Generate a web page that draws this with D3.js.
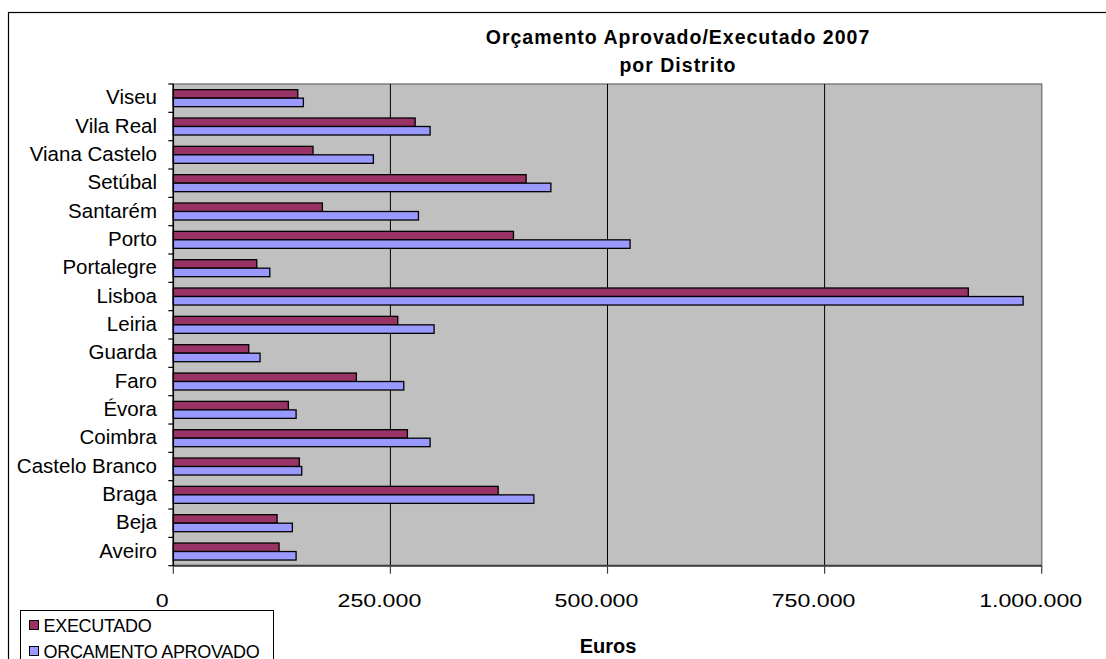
<!DOCTYPE html>
<html>
<head>
<meta charset="utf-8">
<script src="https://cdn.jsdelivr.net/npm/d3@7/dist/d3.min.js"></script>
<style>
    body { margin: 0; background: #fff; }
    svg { display: block; font-family: "Liberation Sans", Arial, sans-serif; }
</style>
</head>
<body>
<div id="chart"></div>
<script>
'use strict'

// Districts, bottom to top as they appear on the chart.
const districts = ['Aveiro', 'Beja', 'Braga', 'Castelo Branco', 'Coimbra', 'Évora', 'Faro',
    'Guarda', 'Leiria', 'Lisboa', 'Portalegre', 'Porto', 'Santarém', 'Setúbal',
    'Viana Castelo', 'Vila Real', 'Viseu'];

const executado = [121800, 119500, 374100, 145200, 269600, 132500, 210800,
    86900, 258500, 915500, 96100, 391700, 171700, 406300,
    160900, 278500, 143300];

const aprovado = [141400, 137100, 415200, 147900, 295700, 141400, 265400,
    99900, 300300, 978600, 111100, 526000, 282300, 434800,
    230400, 295700, 149800];

const seriesNames = ['EXECUTADO', 'ORÇAMENTO APROVADO'];
const xTicks = [0, 250000, 500000, 750000, 1000000];

const width = 1106, height = 659;
const plot = {left: 173.3, right: 1041.7, top: 84, bottom: 565.7};
const colors = ['#993366', '#9999ff'];

let locale = d3.formatLocale({decimal: ',', thousands: '.', grouping: [3], currency: ['€', '']});
let fmt = locale.format(',.0f');

let svg = d3.select('#chart')
    .append('svg')
        .attr('width', width)
        .attr('height', height);

// Outer chart frame (runs past the window on right and bottom).
svg.append('rect')
    .attr('x', 8.5).attr('y', 12.5)
    .attr('width', 1140).attr('height', 700)
    .attr('fill', '#fff')
    .attr('stroke', '#000')
    .attr('stroke-width', 1.2);

let x = d3.scaleLinear()
    .domain([0, 1000000])
    .range([plot.left, plot.right]);

let y = d3.scaleBand()
    .domain(districts.slice().reverse())
    .range([plot.top, plot.bottom])
    .paddingInner(0.4)
    .paddingOuter(0.2);

let ySub = d3.scaleBand()
    .domain([0, 1])
    .range([0, y.bandwidth()]);

// Plot area.
svg.append('rect')
    .attr('x', plot.left).attr('y', plot.top)
    .attr('width', plot.right - plot.left)
    .attr('height', plot.bottom - plot.top)
    .attr('fill', '#c0c0c0')
    .attr('stroke', '#808080')
    .attr('stroke-width', 1.5);

// Gridlines.
svg.append('g')
    .selectAll('line')
    .data(xTicks.slice(1, -1))
    .join('line')
        .attr('x1', d => x(d)).attr('x2', d => x(d))
        .attr('y1', plot.top).attr('y2', plot.bottom)
        .attr('stroke', '#000')
        .attr('stroke-width', 1);

// Bars.
let rows = districts.map((d, i) => ({name: d, values: [executado[i], aprovado[i]]}));

let groups = svg.append('g')
    .selectAll('g')
    .data(rows)
    .join('g')
        .attr('transform', d => `translate(0, ${y(d.name)})`);

groups.selectAll('rect')
    .data(d => d.values.map((v, k) => ({k, v})))
    .join('rect')
        .attr('x', x(0))
        .attr('y', d => ySub(d.k))
        .attr('width', d => x(d.v) - x(0))
        .attr('height', ySub.bandwidth())
        .attr('fill', d => colors[d.k])
        .attr('stroke', '#000')
        .attr('stroke-width', 1.3);

// Axes lines.
svg.append('line')
    .attr('x1', plot.left).attr('x2', plot.right)
    .attr('y1', plot.bottom).attr('y2', plot.bottom)
    .attr('stroke', '#404040').attr('stroke-width', 2);

svg.append('line')
    .attr('x1', plot.left).attr('x2', plot.left)
    .attr('y1', plot.top).attr('y2', plot.bottom)
    .attr('stroke', '#000').attr('stroke-width', 1.5);

// Category ticks at band boundaries.
let step = (plot.bottom - plot.top) / districts.length;
svg.append('g')
    .selectAll('line')
    .data(d3.range(districts.length + 1))
    .join('line')
        .attr('x1', plot.left - 5).attr('x2', plot.left)
        .attr('y1', i => plot.top + i * step).attr('y2', i => plot.top + i * step)
        .attr('stroke', '#000').attr('stroke-width', 1.2);

// Category labels.
svg.append('g')
    .selectAll('text')
    .data(districts)
    .join('text')
        .attr('x', 157)
        .attr('y', d => y(d) + y.bandwidth() / 2)
        .attr('dy', '0.3em')
        .attr('text-anchor', 'end')
        .attr('font-size', 20.5)
        .attr('fill', '#000')
        .text(d => d);

// Value ticks and labels.
svg.append('g')
    .selectAll('line')
    .data(xTicks)
    .join('line')
        .attr('x1', d => x(d)).attr('x2', d => x(d))
        .attr('y1', plot.bottom).attr('y2', plot.bottom + 8)
        .attr('stroke', '#404040').attr('stroke-width', 1.2);

// labels are drawn a bit wide and left of their tick, as in the original
svg.append('g')
    .selectAll('text')
    .data(xTicks)
    .join('text')
        .attr('transform', d => `translate(${x(d) - 11}, 606.5) scale(1.22, 1)`)
        .attr('text-anchor', 'middle')
        .attr('font-size', 19)
        .attr('fill', '#000')
        .text(d => fmt(d));

// Title.
let title = svg.append('text')
    .attr('text-anchor', 'middle')
    .attr('font-weight', 'bold')
    .attr('font-size', 19.5)
    .attr('letter-spacing', 1)
    .attr('fill', '#000');
title.append('tspan').attr('x', 678).attr('y', 43.5).text('Orçamento Aprovado/Executado 2007');
title.append('tspan').attr('x', 678).attr('y', 72).text('por Distrito');

// Axis title.
svg.append('text')
    .attr('x', 608).attr('y', 653)
    .attr('text-anchor', 'middle')
    .attr('font-weight', 'bold')
    .attr('font-size', 20)
    .attr('fill', '#000')
    .text('Euros');

// Legend.
let legend = svg.append('g');
legend.append('rect')
    .attr('x', 20.5).attr('y', 610.5)
    .attr('width', 253).attr('height', 70)
    .attr('fill', '#fff')
    .attr('stroke', '#000')
    .attr('stroke-width', 1);

let items = legend.selectAll('g')
    .data(seriesNames)
    .join('g')
        .attr('transform', (d, i) => `translate(29.5, ${620.5 + i * 26})`);

items.append('rect')
    .attr('width', 9).attr('height', 9)
    .attr('fill', (d, i) => colors[i])
    .attr('stroke', '#000')
    .attr('stroke-width', 1);

items.append('text')
    .attr('x', 14).attr('y', 11)
    .attr('font-size', 18)
    .attr('letter-spacing', -0.3)
    .attr('fill', '#000')
    .text(d => d);
</script>
</body>
</html>
